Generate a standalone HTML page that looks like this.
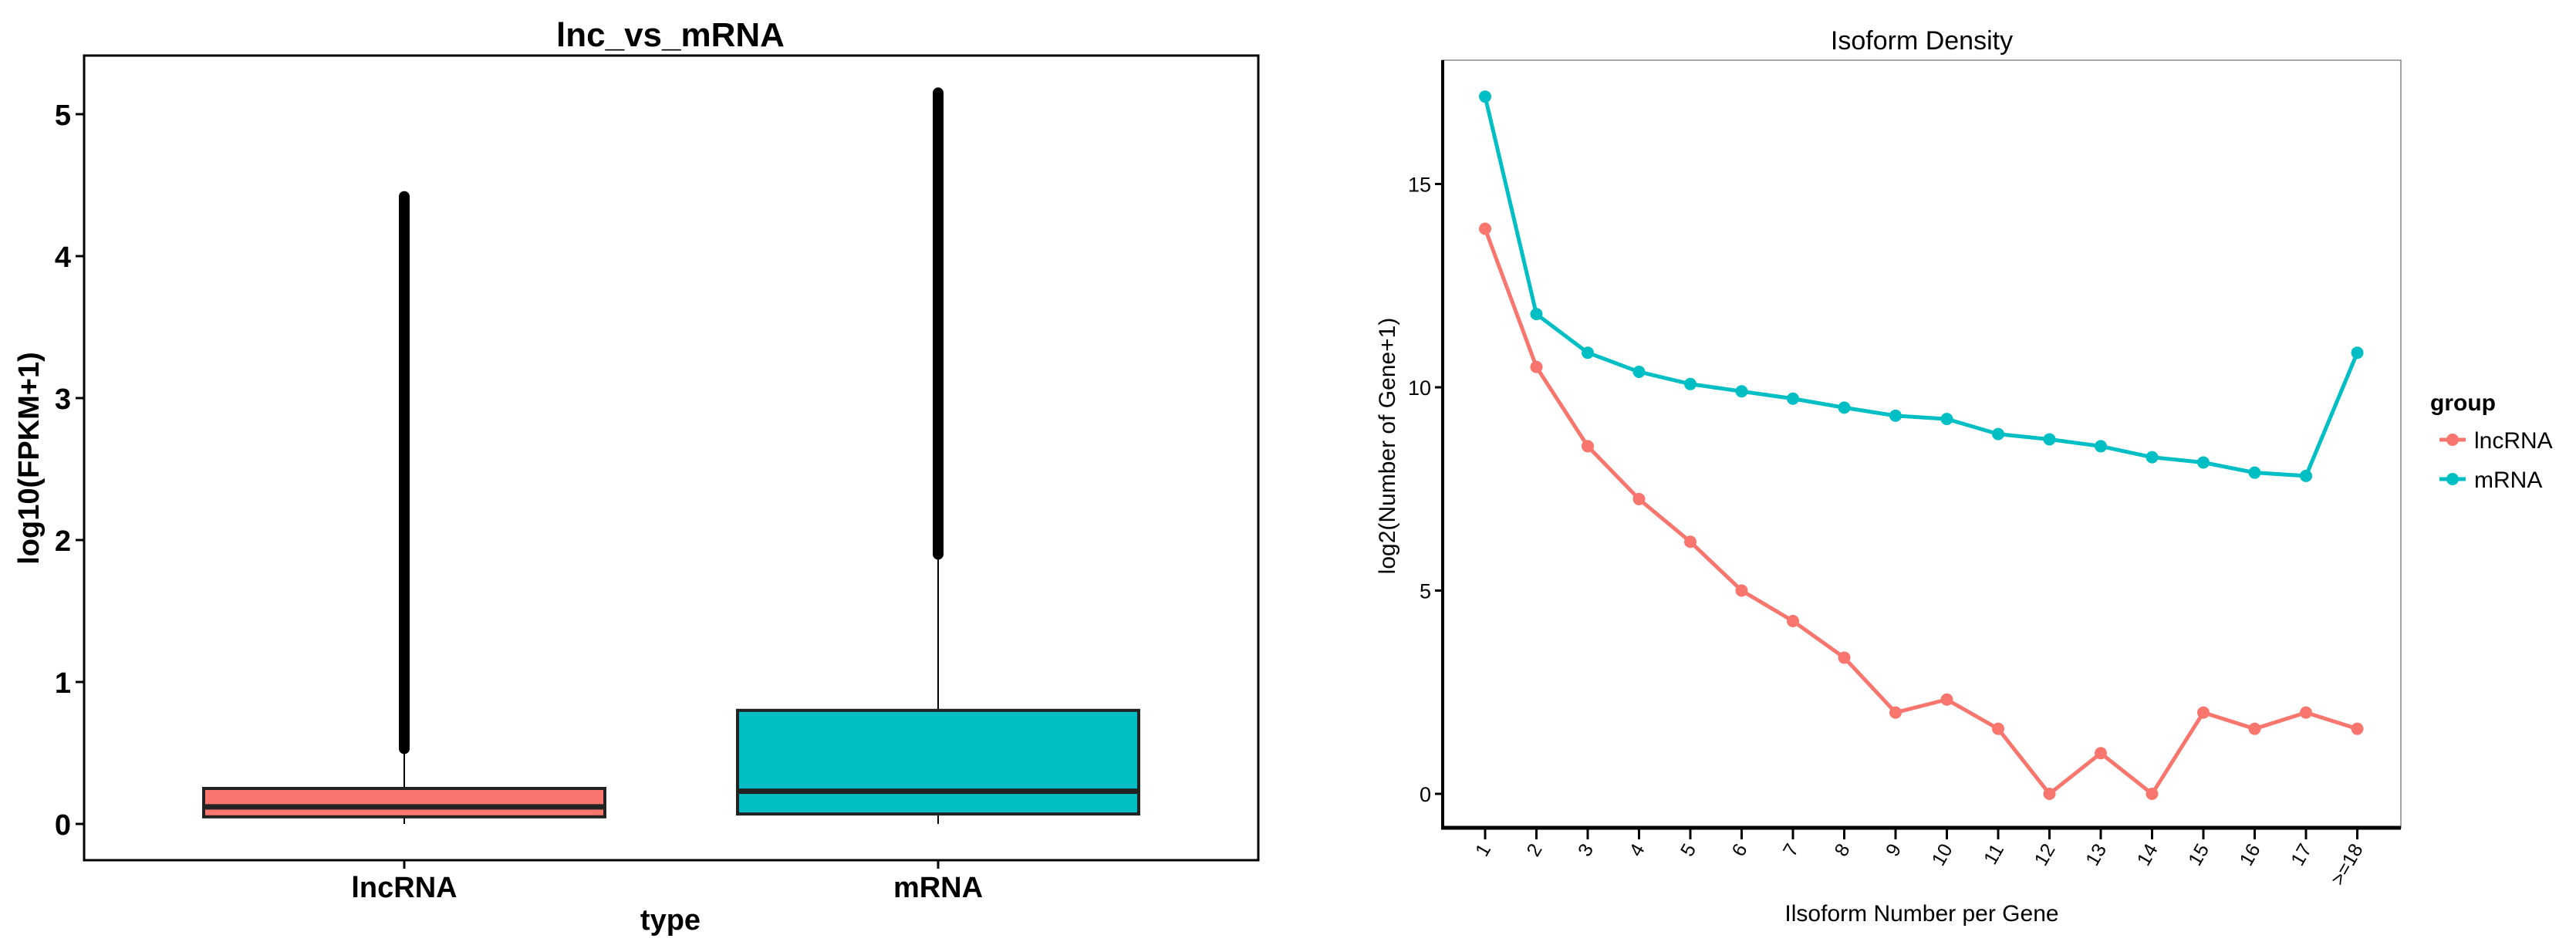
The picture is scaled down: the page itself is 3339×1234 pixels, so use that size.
<!DOCTYPE html>
<html><head><meta charset="utf-8"><style>
html,body{margin:0;padding:0;background:#fff}
svg{display:block}
text{font-family:"Liberation Sans",Arial,sans-serif}
</style></head><body>
<svg id="fig" width="3339" height="1234" viewBox="0 0 3339 1234" xmlns="http://www.w3.org/2000/svg">
<g id="left">
<rect x="109" y="72" width="1522" height="1043" fill="#fff" stroke="#000" stroke-width="3"/>
<text x="869" y="60" font-size="44" font-weight="bold" text-anchor="middle">lnc_vs_mRNA</text>
<text transform="translate(50,594) rotate(-90)" font-size="38" font-weight="bold" text-anchor="middle">log10(FPKM+1)</text>
<text x="869" y="1205" font-size="38" font-weight="bold" text-anchor="middle">type</text>
<g id="lticks"></g>
<g id="boxes"></g>
</g>
<g id="right">
<rect x="1870" y="78" width="1242" height="995" fill="#fff" stroke="#888" stroke-width="1.5"/>
<line x1="1870" y1="78" x2="1870" y2="1075" stroke="#000" stroke-width="4"/>
<line x1="1868" y1="1073" x2="3112" y2="1073" stroke="#000" stroke-width="5"/>
<text x="2491" y="64" font-size="34" text-anchor="middle">Isoform Density</text>
<text transform="translate(1808,578) rotate(-90)" font-size="30" text-anchor="middle">log2(Number of Gene+1)</text>
<text x="2491" y="1194" font-size="30" text-anchor="middle">Ilsoform Number per Gene</text>
<g id="rticks"></g>
<g id="lines"></g>
<g>
<text x="3150" y="532" font-size="30" font-weight="bold">group</text>
<g>
<line x1="3162" y1="570" x2="3196" y2="570" stroke="#F8766D" stroke-width="5"/>
<circle cx="3179" cy="570" r="8" fill="#F8766D"/>
<text x="3207" y="581" font-size="30">lncRNA</text></g>
<g>
<line x1="3162" y1="621" x2="3196" y2="621" stroke="#00BFC4" stroke-width="5"/>
<circle cx="3179" cy="621" r="8" fill="#00BFC4"/>
<text x="3207" y="632" font-size="30">mRNA</text></g>
</g>
</g>
</svg>
<script>
// Boxplot data
const boxCategories = ["lncRNA","mRNA"];
const boxQ1 = [0.05, 0.07];
const boxMedian = [0.12, 0.23];
const boxQ3 = [0.25, 0.80];
const boxWhiskerLow = [0.0, 0.0];
const boxWhiskerHigh = [0.53, 1.9];
const boxOutlierMax = [4.42, 5.15];
const boxColors = ["#F8766D","#00BFC4"];
const leftYTicks = [0,1,2,3,4,5];

// Isoform line data
const isoCategories = ["1","2","3","4","5","6","7","8","9","10","11","12","13","14","15","16","17",">=18"];
const lncValues = [13.9,10.5,8.55,7.25,6.2,5.0,4.25,3.35,2.0,2.32,1.6,0,1.0,0,2.0,1.6,2.0,1.6];
const mrnaValues = [17.15,11.8,10.85,10.38,10.08,9.9,9.72,9.5,9.3,9.22,8.85,8.72,8.55,8.28,8.15,7.9,7.82,10.85];
const rightYTicks = [0,5,10,15];

const NS="http://www.w3.org/2000/svg";
function mk(tag,attrs,parent,txt){const e=document.createElementNS(NS,tag);for(const k in attrs)e.setAttribute(k,attrs[k]);if(txt!==undefined)e.textContent=txt;parent.appendChild(e);return e;}

// left axes
const ly=v=>1068-v*184;
const lx=i=>524+i*692;
const lt=document.getElementById('lticks');
leftYTicks.forEach(t=>{
  const l=mk('line',{x1:98,x2:109,y1:ly(t),y2:ly(t),stroke:'#000','stroke-width':3},lt);
  
  
  const tx=mk('text',{x:92,y:ly(t)+14,'font-size':38,'font-weight':'bold','text-anchor':'end'},lt,String(t));
  
  
});
const bx=document.getElementById('boxes');
boxCategories.forEach((c,i)=>{
  const cx=lx(i), hw=260;
  const g=mk('g',{},bx);
  
  
  mk('line',{x1:cx,x2:cx,y1:ly(boxQ3[i]),y2:ly(boxWhiskerHigh[i]),stroke:'#000','stroke-width':2},g);
  mk('line',{x1:cx,x2:cx,y1:ly(boxQ1[i]),y2:ly(boxWhiskerLow[i]),stroke:'#000','stroke-width':2},g);
  const o=mk('line',{x1:cx,x2:cx,y1:ly(boxWhiskerHigh[i]),y2:ly(boxOutlierMax[i]),stroke:'#000','stroke-width':14,'stroke-linecap':'round'},g);
  
  
  mk('rect',{x:cx-hw,y:ly(boxQ3[i]),width:2*hw,height:ly(boxQ1[i])-ly(boxQ3[i]),fill:boxColors[i],stroke:'#222','stroke-width':4},g);
  mk('line',{x1:cx-hw,x2:cx+hw,y1:ly(boxMedian[i]),y2:ly(boxMedian[i]),stroke:'#222','stroke-width':7},g);
  const tk=mk('line',{x1:cx,x2:cx,y1:1115,y2:1126,stroke:'#000','stroke-width':3},lt);
  
  
  const tx=mk('text',{x:cx,y:1163,'font-size':38,'font-weight':'bold','text-anchor':'middle'},lt,c);
  
  
});

// right axes
const ry=v=>1029-v*52.7;
const rx=i=>1925+i*66.5;
const rt=document.getElementById('rticks');
rightYTicks.forEach(t=>{
  const l=mk('line',{x1:1860,x2:1870,y1:ry(t),y2:ry(t),stroke:'#000','stroke-width':3},rt);
  
  
  const tx=mk('text',{x:1855,y:ry(t)+10,'font-size':27,'text-anchor':'end'},rt,String(t));
  
  
});
isoCategories.forEach((c,i)=>{
  const l=mk('line',{x1:rx(i),x2:rx(i),y1:1075,y2:1088,stroke:'#000','stroke-width':3},rt);
  
  
  const tx=mk('text',{transform:`translate(${rx(i)+8},1100) rotate(-60)`,'font-size':25,'text-anchor':'end'},rt,c);
  
  
});
const ln=document.getElementById('lines');
[[lncValues,'#F8766D','lncrna'],[mrnaValues,'#00BFC4','mrna']].forEach(([vals,col,nm])=>{
  const g=mk('g',{},ln);
  
  
  const p=mk('polyline',{points:vals.map((v,i)=>rx(i)+','+ry(v)).join(' '),fill:'none',stroke:col,'stroke-width':5,'stroke-linejoin':'round'},g);
  
  
  vals.forEach((v,i)=>{
    const c=mk('circle',{cx:rx(i),cy:ry(v),r:8,fill:col},g);
    
    
  });
});
</script>
</body></html>
